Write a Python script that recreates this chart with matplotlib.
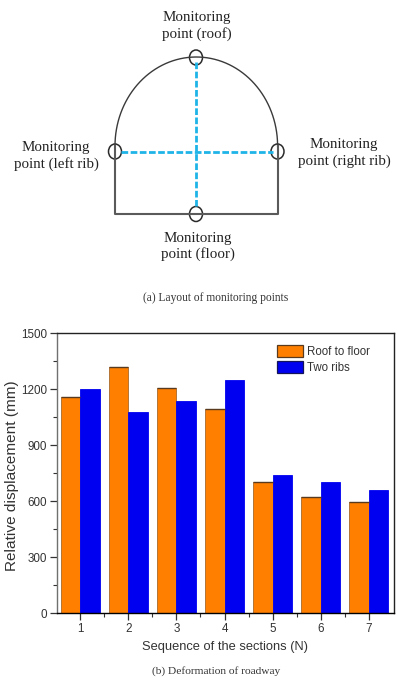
import numpy as np
from matplotlib import pyplot as plt
from matplotlib.patches import Ellipse

sections = [1, 2, 3, 4, 5, 6, 7]
roof_to_floor = [1157, 1320, 1209, 1096, 703, 624, 594]
two_ribs = [1201, 1080, 1135, 1251, 742, 703, 662]
y_ticks = [0, 300, 600, 900, 1200, 1500]

W, H = 398, 681
SERIF = 'Liberation Serif'
SANS = 'Liberation Sans'
CYAN = '#1fb4e8'

fig = plt.figure(figsize=(W / 100, H / 100), dpi=100)

# top part: sketch of the roadway, drawn in pixel coordinates
sk = fig.add_axes([0, 0, 1, 1])
sk.set_xlim(0, W)
sk.set_ylim(H, 0)
sk.axis('off')

t = np.linspace(np.pi, 2 * np.pi, 200)
sk.plot(196.3 + 81.3 * np.cos(t), 146 + 89 * np.sin(t), color='#3a3a3a', lw=1.0)
sk.plot([115, 115, 277.7, 277.7], [146, 214, 214, 146], color='#5a5a5a', lw=1.5)
sk.plot([196.3, 196.3], [62, 206], color=CYAN, lw=2, ls=(0, (2.4, 0.9)))
sk.plot([121, 273], [151.7, 151.7], color=CYAN, lw=2, ls=(0, (2.4, 0.9)))

for cx, cy in [(196, 57.5), (115, 151.5), (277.5, 151.5), (196, 214)]:
    sk.add_patch(Ellipse((cx, cy), 13, 15, fill=False, ec='#2a2a2a', lw=1.1))

labels = [
    (197, 26, 'Monitoring\npoint (roof)'),
    (56, 156, 'Monitoring\npoint (left rib)'),
    (344, 153, 'Monitoring\npoint (right rib)'),
    (198, 246.5, 'Monitoring\npoint (floor)'),
]
for x, y, s in labels:
    sk.text(x, y, s, family=SERIF, fontsize=10.8, color='#222222', ha='center',
            va='center', linespacing=1.25)
sk.text(215.5, 298, '(a) Layout of monitoring points', family=SERIF, fontsize=8.3,
        color='#333333', ha='center', va='center')
sk.text(216, 671, '(b) Deformation of roadway', family=SERIF, fontsize=8.2,
        color='#333333', ha='center', va='center')

# bottom part: bar chart
left, right, top, bottom = 57, 394, 333.3, 613
ax = fig.add_axes([left / W, 1 - bottom / H, (right - left) / W, (bottom - top) / H])
x = np.array(sections)
width = 0.4
ax.bar(x - width / 2, roof_to_floor, width, color='#ff8000', edgecolor='#a8682a',
       linewidth=0.6, label='Roof to floor')
ax.bar(x + width / 2, two_ribs, width, color='#0000f0', edgecolor='#0000f0',
       linewidth=0.6, label='Two ribs')
# only the top of the orange bars is really dark
ax.hlines(roof_to_floor, x - width, x, color='#5a3a1e', lw=1.0)

ax.set_xlim(0.515, 7.526)
ax.set_ylim(0, 1500)
ax.set_xticks(sections)
ax.set_xticks(x[:-1] + 0.5, minor=True)
ax.set_yticks(y_ticks)
ax.set_yticks(np.array(y_ticks[:-1]) + 150, minor=True)
ax.tick_params(which='major', length=5, width=0.9, labelsize=8.4, colors='#333333')
ax.tick_params(which='minor', length=3, width=0.8, colors='#333333')
ax.tick_params(axis='x', which='major', pad=2)
ax.tick_params(axis='y', which='major', pad=2)
for lab in ax.get_xticklabels() + ax.get_yticklabels():
    lab.set_family(SANS)
for s in ax.spines.values():
    s.set_linewidth(1.0)
    s.set_color('#222222')
ax.spines['left'].set_color('#707070')
ax.spines['bottom'].set_color('#000000')

ax.set_xlabel('Sequence of the sections (N)', family=SANS, fontsize=9.3, color='#333333')
ax.xaxis.set_label_coords((224.5 - left) / (right - left), -(647 - bottom) / (bottom - top),
                          transform=ax.transAxes)
ax.xaxis.label.set_va('center')
ax.set_ylabel('Relative displacement (mm)', family=SANS, fontsize=11.1, color='#333333')
ax.yaxis.set_label_coords(-(left - 12) / (right - left), (bottom - 476) / (bottom - top),
                          transform=ax.transAxes)
ax.yaxis.label.set_va('center')
leg = ax.legend(loc='upper left', bbox_to_anchor=(0.654, 0.958), frameon=False, borderpad=0,
                borderaxespad=0, handlelength=2.2, handleheight=1.25, labelspacing=0.22,
                handletextpad=0.35, labelcolor='#333333', prop={'family': SANS, 'size': 8.3})
for h, c in zip(leg.legend_handles, ['#5a3a1e', '#14145a']):
    h.set_edgecolor(c)
    h.set_linewidth(0.9)

fig.savefig('out.png', dpi=100)
